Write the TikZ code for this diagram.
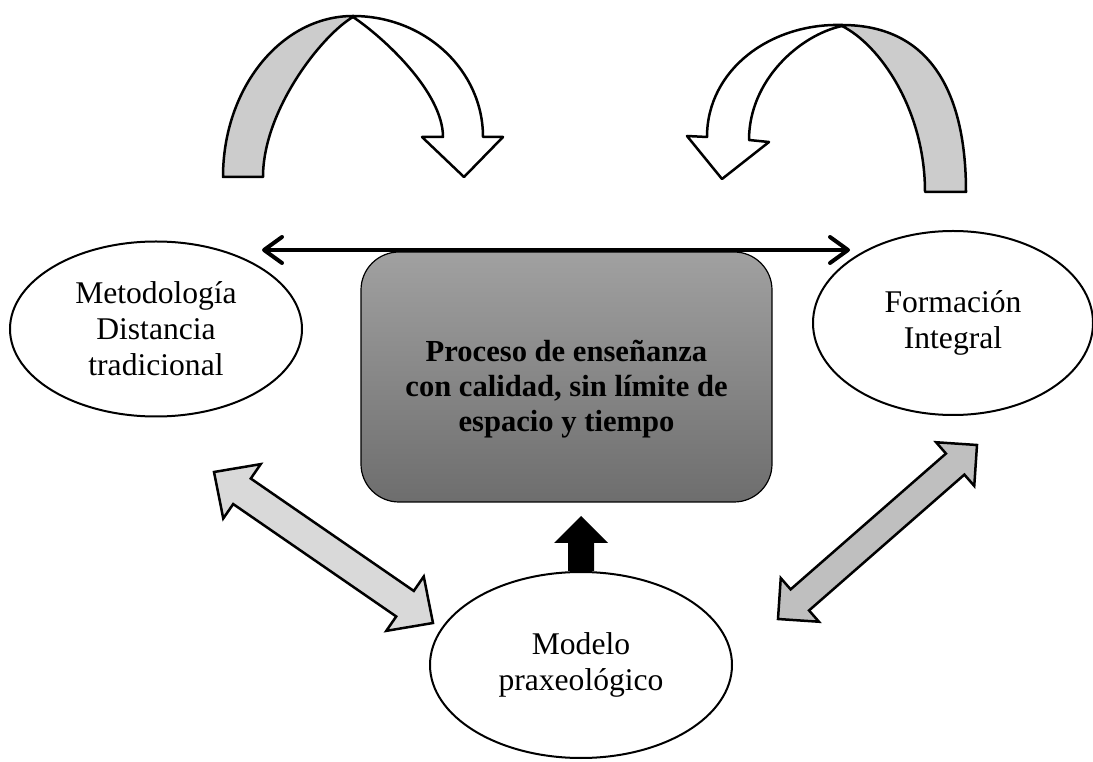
\documentclass[tikz,border=0pt]{standalone}
\usepackage{fontspec}
\setmainfont{Liberation Serif}
\usetikzlibrary{arrows.meta,calc,shapes.geometric}

% block double arrow between two named points
\newcommand{\dblarrow}[6]{%
  \coordinate (#2h) at ($(#2)!#4!(#3)$);
  \coordinate (#3h) at ($(#3)!#4!(#2)$);
  \draw[#1] (#2) -- ($(#2h)!#5!90:(#3)$) -- ($(#2h)!#6!90:(#3)$)
    -- ($(#3h)!#6!-90:(#2)$) -- ($(#3h)!#5!-90:(#2)$) -- (#3)
    -- ($(#3h)!#5!90:(#2)$) -- ($(#3h)!#6!90:(#2)$)
    -- ($(#2h)!#6!-90:(#3)$) -- ($(#2h)!#5!-90:(#3)$) -- cycle;}

\begin{document}
\begin{tikzpicture}[x=1pt,y=1pt,
  elli/.style={draw,ellipse,line width=2pt,align=center,inner sep=0pt,
    font=\fontsize{31.6}{36}\selectfont},
  procbox/.style={draw,line width=1.2pt,rounded corners=38pt,
    top color=black!37,bottom color=black!57,
    minimum width=411pt,minimum height=250pt},
  proctxt/.style={align=center,inner sep=0pt,
    font=\bfseries\fontsize{30.6}{35}\selectfont},
  ribgrey/.style={draw,line width=2.5pt,line join=round,fill=black!20},
  ribwhite/.style={draw,line width=2.5pt,line join=round,fill=white},
  larrow/.style={draw,line width=2.5pt,line join=miter,fill=black!15},
  rarrow/.style={draw,line width=2.5pt,line join=miter,fill=black!25},
  harrow/.style={line width=4pt,>={Straight Barb[length=18pt,width=26pt,round]},<->}]
  \path[use as bounding box,fill=white] (0,0) rectangle (1093,761);

  % Curved arrows on top
  \draw[ribgrey] (223,584) arc[start angle=180,end angle=90,x radius=130pt,y radius=161pt]
    -- (353,744) .. controls (322,726) and (263,651) .. (263,584) -- cycle;
  \draw[ribwhite] (353,745) arc[start angle=90,end angle=0,x radius=130pt,y radius=121pt]
    -- (503,624) -- (464,584) -- (422,624) -- (443,624)
    .. controls (443,669) and (383,724) .. (353,744) -- cycle;

  \draw[ribgrey] (966,569) .. controls (966,676) and (925,736) .. (842,736)
    -- (842,735) .. controls (880,716) and (925,651) .. (925,569) -- cycle;
  \draw[ribwhite] (842,736) .. controls (770,738) and (707,691) .. (707,624)
    -- (687,625) -- (722,582) -- (769,619) -- (749,621)
    .. controls (749,681) and (800,726) .. (842,735) -- cycle;

  \node[elli,minimum width=292pt,minimum height=175pt] (metodo) at (156,432)
    {Metodología\\Distancia\\tradicional};
  \node[elli,minimum width=280pt,minimum height=184pt] (formacion) at (953,438)
    {Formación\\Integral};
  \node[elli,minimum width=302pt,minimum height=186pt] (modelo) at (581,96)
    {Modelo\\praxeológico};

  \node[procbox] (proceso) at (566.5,384) {};
  \node[proctxt] (procesotxt) at (566.5,372)
    {Proceso de enseñanza\\con calidad, sin límite de\\espacio y tiempo};

  % Draw the links
  \coordinate (hl) at (262,511);
  \coordinate (hr) at (850,511);
  \draw[harrow] (hl) -- (hr);

  \coordinate (lu) at (214,289);
  \coordinate (ld) at (433,138);
  \dblarrow{larrow}{lu}{ld}{34pt}{33pt}{15.5pt}

  \coordinate (ru) at (977,316);
  \coordinate (rd) at (778,142);
  \dblarrow{rarrow}{ru}{rd}{29pt}{29pt}{14pt}

  \fill (modelo.north) ++(-13,0) -- ++(0,28) -- ++(-14,0) -- ++(27,27)
    -- ++(27,-27) -- ++(-14,0) -- ++(0,-28) -- cycle;

\end{tikzpicture}
\end{document}
